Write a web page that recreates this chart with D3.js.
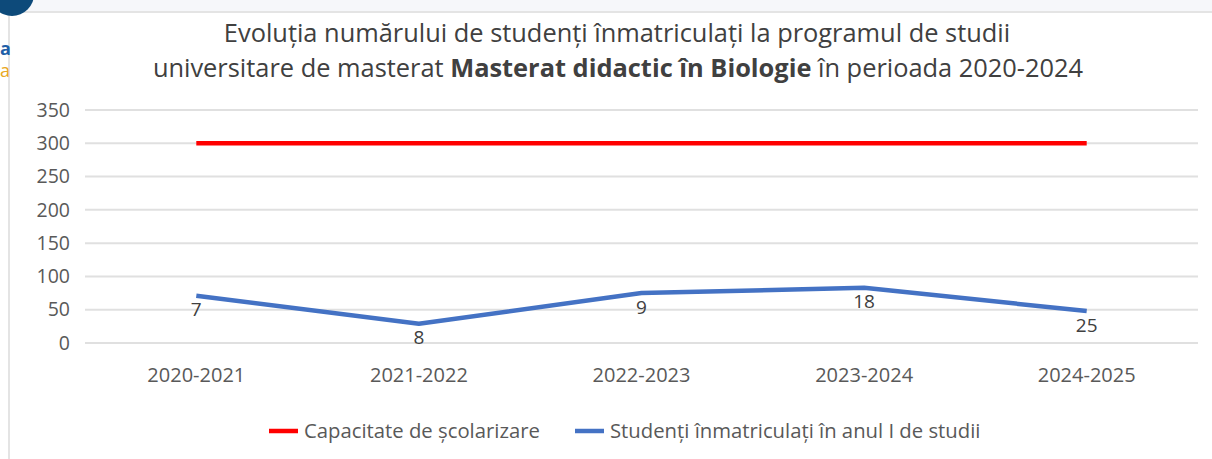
<!DOCTYPE html>
<html><head><meta charset="utf-8">
<script src="https://cdn.jsdelivr.net/npm/d3@7"></script>
<style>
html,body{margin:0;padding:0;background:#fff;}
svg{display:block;font-family:"Open Sans",sans-serif;}
</style></head>
<body>
<svg id="chart" width="1212" height="459"></svg>
<script>
const categories = ["2020-2021","2021-2022","2022-2023","2023-2024","2024-2025"];
const capacity = [300,300,300,300,300];
const enrolled = [71,29,75,83,48];
const enrolledLabels = ["7","8","9","18","25"];
const yTicks = [0,50,100,150,200,250,300,350];
const seriesNames = ["Capacitate de școlarizare","Studenți înmatriculați în anul I de studii"];
const seriesColors = ["#ff0000","#4472c4"];

const svg = d3.select("#chart");

// background decorations
svg.append("rect").attr("x",0).attr("y",0).attr("width",1212).attr("height",12).attr("fill","#f6f7fa");
svg.append("rect").attr("x",9).attr("y",12).attr("width",1212).attr("height",460).attr("fill","#fff")
  .attr("stroke","#e4e4e4").attr("stroke-width",2);
svg.append("circle").attr("cx",12).attr("cy",-6).attr("r",22).attr("fill","#0d4a7a");
svg.append("text").attr("x",0).attr("y",55).attr("font-size",18).attr("font-weight","bold").attr("fill","#1f5fa8").text("a");
svg.append("text").attr("x",0).attr("y",77).attr("font-size",18).attr("fill","#e8a825").text("a");

const x = d3.scaleBand().domain(categories).range([85,1198]);
const y = d3.scaleLinear().domain([0,350]).range([343,110]);

// gridlines
svg.append("g").selectAll("line").data(yTicks).join("line")
  .attr("x1",85).attr("x2",1198)
  .attr("y1",d=>y(d)).attr("y2",d=>y(d))
  .attr("stroke","#e0e0e0").attr("stroke-width",2);

// y axis
const yAxis = svg.append("g").attr("transform","translate(76,0)")
  .call(d3.axisLeft(y).tickValues(yTicks).tickSize(0).tickPadding(6));
yAxis.select(".domain").remove();
yAxis.selectAll("text").attr("font-size",19.5).attr("fill","#595959").attr("font-family","Open Sans, sans-serif");

// x axis
const xAxis = svg.append("g").attr("transform","translate(0,364)")
  .call(d3.axisBottom(x).tickSize(0).tickPadding(0));
xAxis.select(".domain").remove();
xAxis.selectAll("text").attr("font-size",20).attr("fill","#595959").attr("dy","0.9em").attr("font-family","Open Sans, sans-serif");

const cx = d => x(d) + x.bandwidth()/2;
const line = d3.line().x(d=>cx(d[0])).y(d=>y(d[1]));

svg.append("path").datum(categories.map((c,i)=>[c,capacity[i]]))
  .attr("d",line).attr("fill","none").attr("stroke",seriesColors[0]).attr("stroke-width",4.5);
svg.append("path").datum(categories.map((c,i)=>[c,enrolled[i]]))
  .attr("d",line).attr("fill","none").attr("stroke",seriesColors[1]).attr("stroke-width",4.5)
  .attr("stroke-linejoin","round");

// data labels
svg.append("g").selectAll("text").data(categories).join("text")
  .attr("x",c=>cx(c)).attr("y",(c,i)=>y(enrolled[i])+14)
  .attr("dy","0.35em").attr("text-anchor","middle")
  .attr("font-size",19).attr("fill","#404040")
  .text((c,i)=>enrolledLabels[i]);

// title
const title = svg.append("text").attr("text-anchor","middle").attr("font-size",25.4).attr("fill","#404040");
title.append("tspan").attr("x",617).attr("y",42).text("Evoluția numărului de studenți înmatriculați la programul de studii");
const l2 = title.append("tspan").attr("x",618).attr("y",77);
l2.append("tspan").text("universitare de masterat ");
l2.append("tspan").attr("font-weight","bold").text("Masterat didactic în Biologie");
l2.append("tspan").text(" în perioada 2020-2024");

// legend
const legendX = [269, 575];
const lg = svg.append("g").selectAll("g").data(seriesNames).join("g")
  .attr("transform",(d,i)=>`translate(${legendX[i]},431)`);
lg.append("line").attr("x1",0).attr("x2",29).attr("y1",0).attr("y2",0)
  .attr("stroke",(d,i)=>seriesColors[i]).attr("stroke-width",4.5);
lg.append("text").attr("x",35).attr("dy","0.35em").attr("font-size",20.3).attr("fill","#595959").text(d=>d);
</script>
</body></html>
